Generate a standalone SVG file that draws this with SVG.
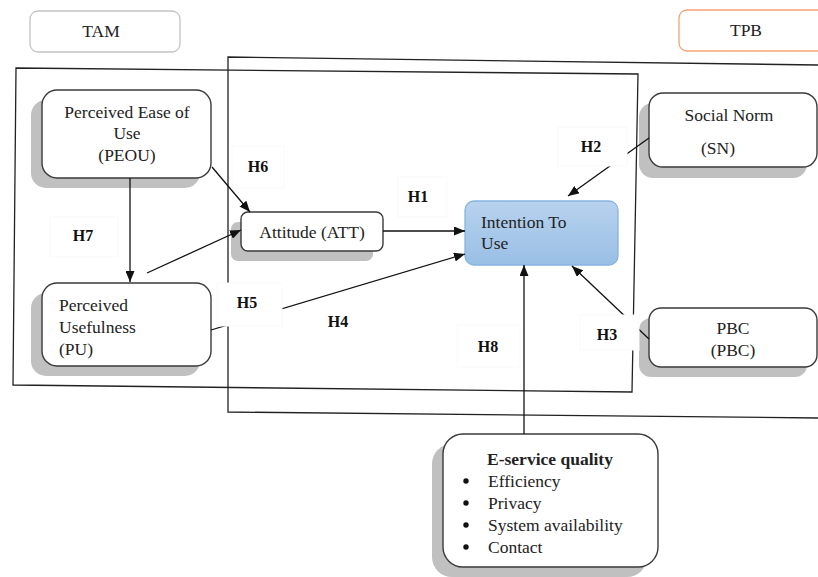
<svg xmlns="http://www.w3.org/2000/svg" width="818" height="577" viewBox="0 0 818 577">
<style>
text{font-family:"Liberation Serif","Times New Roman",serif;font-size:17.5px;fill:#222}
.h{font-weight:bold;font-size:16px;fill:#111}
.frame{fill:none;stroke:#222;stroke-width:1.3}
.box{fill:#fff;stroke:#3a3a3a;stroke-width:1.4}
.sh{fill:#c0c0c0}
.conn{fill:none;stroke:#111;stroke-width:1.3}
.lbl{fill:#fff;stroke:#f9f9f9;stroke-width:1}
.c{text-anchor:middle}
</style>
<defs>
<marker id="ah" markerUnits="userSpaceOnUse" markerWidth="11" markerHeight="9" refX="11" refY="4.5" orient="auto">
<path d="M0,0 L11,4.5 L0,9 z" fill="#111"/>
</marker>
<linearGradient id="blue" x1="0" y1="0" x2="0" y2="1">
<stop offset="0" stop-color="#b8d2ee"/>
<stop offset="1" stop-color="#99bfe5"/>
</linearGradient>
</defs>

<g id="frames">
<path class="frame" d="M16,68 L638,74 L632,392 L13,385 Z"/>
<path class="frame" d="M818,65 L228,57 L228,412 L818,418"/>
</g>

<g id="tam">
<rect x="30" y="11" width="150" height="41" rx="8" fill="#fff" stroke="#c4c4c4" stroke-width="1.3"/>
<text x="101" y="37" class="c">TAM</text>
</g>
<g id="tpb">
<rect x="679" y="10" width="150" height="41" rx="8" fill="#fff" stroke="#f5a374" stroke-width="1.3"/>
<text x="746" y="36" class="c">TPB</text>
</g>

<g id="peou">
<rect class="sh" x="31" y="100" width="169" height="88" rx="15"/>
<rect class="box" x="42" y="90" width="169" height="88" rx="15"/>
<text x="127" y="118" class="c">Perceived Ease of</text>
<text x="127" y="139" class="c">Use</text>
<text x="127" y="161" class="c">(PEOU)</text>
</g>

<g id="pu">
<rect class="sh" x="31" y="293" width="169" height="83" rx="15"/>
<rect class="box" x="42" y="283" width="169" height="83" rx="15"/>
<text x="59" y="311">Perceived</text>
<text x="59" y="333">Usefulness</text>
<text x="59" y="355">(PU)</text>
</g>

<g id="att">
<rect class="sh" x="231" y="222" width="142" height="39" rx="7"/>
<rect class="box" x="241" y="212" width="142" height="39" rx="7"/>
<text x="312" y="238" class="c">Attitude (ATT)</text>
</g>

<g id="itu">
<rect x="465" y="201" width="153" height="64" rx="9" fill="url(#blue)" stroke="#86b4e2" stroke-width="1.3"/>
<text x="481" y="228">Intention To</text>
<text x="481" y="249">Use</text>
</g>

<g id="sn">
<rect class="sh" x="639" y="103" width="168" height="75" rx="14"/>
<rect class="box" x="649" y="93" width="168" height="74" rx="14"/>
<text x="729" y="121" class="c">Social Norm</text>
<text x="718" y="154" class="c">(SN)</text>
</g>

<g id="pbc">
<rect class="sh" x="639" y="318" width="168" height="59" rx="12"/>
<rect class="box" x="649" y="308" width="168" height="59" rx="12"/>
<text x="733" y="334" class="c">PBC</text>
<text x="733" y="356" class="c">(PBC)</text>
</g>

<g id="esq">
<rect class="sh" x="432" y="444" width="215" height="133" rx="20"/>
<rect class="box" x="443" y="434" width="215" height="133" rx="20"/>
<text x="550" y="465" class="c" font-weight="bold">E-service quality</text>
<circle cx="466" cy="481" r="2.7" fill="#111"/>
<circle cx="466" cy="503" r="2.7" fill="#111"/>
<circle cx="466" cy="525" r="2.7" fill="#111"/>
<circle cx="466" cy="547" r="2.7" fill="#111"/>
<text x="488" y="487">Efficiency</text>
<text x="488" y="509">Privacy</text>
<text x="488" y="531">System availability</text>
<text x="488" y="553">Contact</text>
</g>

<g id="connectors">
<path class="conn" d="M212,167 L250,212" marker-end="url(#ah)"/>
<path class="conn" d="M130,178 L130,282" marker-end="url(#ah)"/>
<path class="conn" d="M147,273 L241,230" marker-end="url(#ah)"/>
<path class="conn" d="M383,231 L465,231" marker-end="url(#ah)"/>
<path class="conn" d="M211,330 L465,254" marker-end="url(#ah)"/>
<path class="conn" d="M649,138 L568,196" marker-end="url(#ah)"/>
<path class="conn" d="M649,339 L572,266" marker-end="url(#ah)"/>
<path class="conn" d="M524,434 L524,265" marker-end="url(#ah)"/>
</g>

<g id="labels">
<rect class="lbl" x="232" y="146" width="52" height="42"/>
<text x="258" y="172" class="c h">H6</text>
<rect class="lbl" x="50" y="217" width="68" height="40"/>
<text x="83" y="241" class="c h">H7</text>
<rect class="lbl" x="398" y="177" width="49" height="40"/>
<text x="418" y="202" class="c h">H1</text>
<rect class="lbl" x="558" y="127" width="69" height="39"/>
<text x="591" y="152" class="c h">H2</text>
<rect class="lbl" x="217" y="283" width="65" height="43"/>
<text x="247" y="308" class="c h">H5</text>
<text x="338" y="327" class="c h">H4</text>
<rect class="lbl" x="457" y="325" width="63" height="42"/>
<text x="488" y="352" class="c h">H8</text>
<rect class="lbl" x="580" y="315" width="59" height="35"/>
<text x="607" y="340" class="c h">H3</text>
</g>
</svg>
